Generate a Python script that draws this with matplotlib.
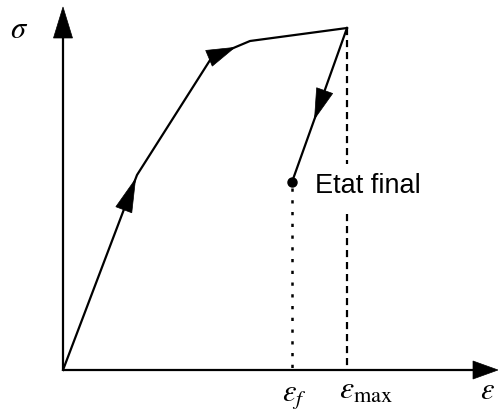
import numpy as np
import matplotlib
matplotlib.use("Agg")
import matplotlib.pyplot as plt
from matplotlib.patches import Polygon

plt.rcParams['mathtext.fontset'] = 'stix'

# Loading path (strain, stress) in arbitrary units
eps_load = [0, 74, 149, 187, 284]
sig_load = [0, 195, 313, 329, 342]
# Unloading to final state
eps_final = 229
sig_final = 188
eps_max = eps_load[-1]
sig_max = sig_load[-1]

# Arrow placements on the path: (segment start, segment end, tip fraction, length)
arrow_specs = [
    ((eps_load[0], sig_load[0]), (eps_load[1], sig_load[1]), 0.98, 33),
    ((eps_load[2], sig_load[2]), (eps_load[3], sig_load[3]), 0.60, 28),
    ((eps_max, sig_max), (eps_final, sig_final), 0.59, 30),
]

fig = plt.figure(figsize=(4.98, 4.14), dpi=100)
ax = fig.add_axes([0, 0, 1, 1])
ax.set_xlim(-63, 435)
ax.set_ylim(-43, 371)
ax.axis('off')

lw = 1.6

def head(tip, direction, length, halfw):
    d = np.asarray(direction, float)
    d = d / np.hypot(*d)
    n = np.array([-d[1], d[0]])
    tip = np.asarray(tip, float)
    base = tip - d * length
    pts = [tip, base + n * halfw, base - n * halfw]
    ax.add_patch(Polygon(pts, closed=True, facecolor='black',
                         edgecolor='black', lw=0.5, zorder=5))

# Axes with arrows
ax.plot([0, 0], [0, 340], color='black', lw=lw, solid_capstyle='butt')
head((0, 363), (0, 1), 31, 9.5)
ax.plot([0, 415], [0, 0], color='black', lw=lw, solid_capstyle='butt')
head((435, 0), (1, 0), 25, 9)

# Loading curve
ax.plot(eps_load, sig_load, color='black', lw=lw, solid_joinstyle='round')
# Unloading
ax.plot([eps_max, eps_final], [sig_max, sig_final], color='black', lw=lw)
ax.plot([eps_final], [sig_final], 'o', color='black', ms=6.5, zorder=6)

# Direction arrows on path
for (p0, p1, frac, L) in arrow_specs:
    p0 = np.array(p0, float); p1 = np.array(p1, float)
    tip = p0 + (p1 - p0) * frac
    head(tip, p1 - p0, L, 8.5)

# Label of final state
label_y = sig_final - 10
gap_top, gap_bot = label_y + 28, label_y - 22

# Guide lines (dashed one interrupted by the label)
dash = (0, (3.2, 2.2))
ax.plot([eps_max, eps_max], [sig_max, gap_top], color='black', lw=1.6, linestyle=dash)
ax.plot([eps_max, eps_max], [gap_bot, 0], color='black', lw=1.6, linestyle=dash)
ax.plot([eps_final, eps_final], [sig_final - 6, 0], color='black', lw=1.8,
        linestyle=(0, (1.3, 3.4)))

# Labels
ax.text(-44, 342, r'$\sigma$', fontsize=22, ha='center', va='center')
ax.text(eps_max + 133, -28, r'$\varepsilon$', fontsize=22, ha='left', va='baseline')
ax.text(eps_final - 10, -30, r'$\varepsilon_f$', fontsize=22, ha='left', va='baseline')
ax.text(eps_max - 8, -28, r'$\varepsilon_{\max}$', fontsize=23, ha='left', va='baseline')
ax.text(eps_final + 23, label_y, 'Etat final', fontsize=19.5,
        family='Liberation Sans', ha='left', va='baseline')

fig.savefig('out.png', dpi=100)
